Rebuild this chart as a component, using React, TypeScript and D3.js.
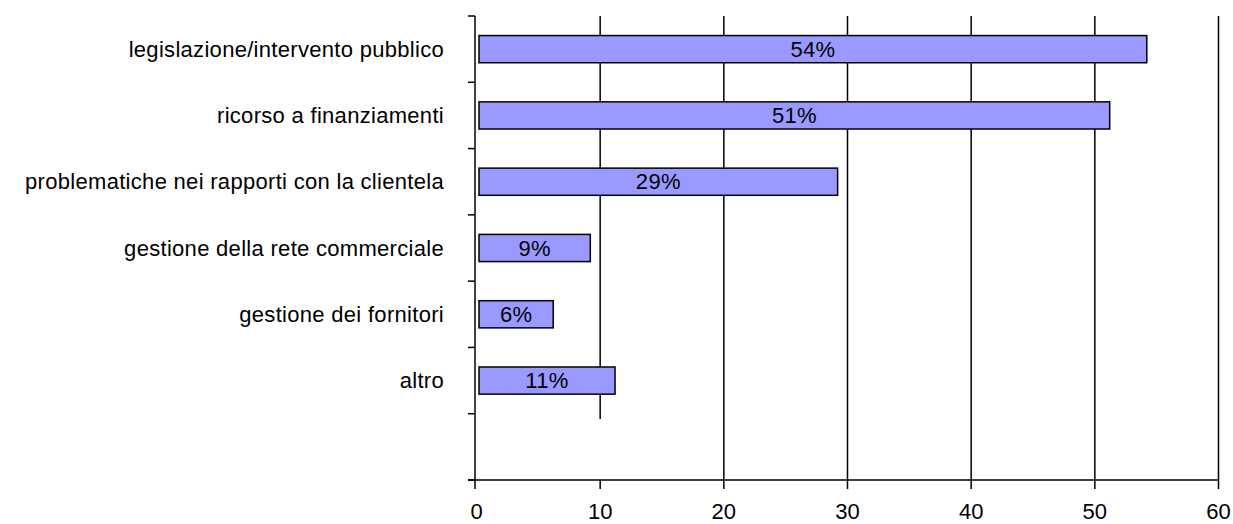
import React, { useEffect, useRef } from "react";
import * as d3 from "d3";

/* DATA */
const categories = [
  "legislazione/intervento pubblico",
  "ricorso a finanziamenti",
  "problematiche nei rapporti con la clientela",
  "gestione della rete commerciale",
  "gestione dei fornitori",
  "altro",
];
const values = [54, 51, 29, 9, 6, 11];
const xTicks = [0, 10, 20, 30, 40, 50, 60];

function BarChart() {
  const chartRef = useRef(null);

  useEffect(() => {
    const svg = d3.select(chartRef.current);
    svg.selectAll("*").remove();

    const font = "'Liberation Sans', Arial, sans-serif";
    const top = 16;
    const bottom = 480;

    // x scale for the percentages
    const x = d3.scaleLinear().domain([0, 60]).range([476.5, 1218.5]);

    // one empty slot at the bottom, like the original chart
    const slots = [...categories, ""];
    const y = d3
      .scaleBand()
      .domain(slots)
      .range([top, bottom])
      .paddingInner(0.59)
      .paddingOuter(0.295);
    const step = y.step();

    const g = svg.append("g");

    // vertical gridlines (the one at 10 stops short in the original)
    g.selectAll("line.grid")
      .data(xTicks.filter((t) => t > 0))
      .enter()
      .append("line")
      .attr("class", "grid")
      .attr("x1", (d) => x(d))
      .attr("x2", (d) => x(d))
      .attr("y1", top)
      .attr("y2", (d) => (d === 10 ? 419 : bottom))
      .attr("stroke", "#000")
      .attr("stroke-width", 1.5);

    // bars
    const data = categories.map((c, i) => ({ c, v: values[i] }));
    g.selectAll("rect.bar")
      .data(data)
      .enter()
      .append("rect")
      .attr("class", "bar")
      .attr("x", x(0) + 2.5)
      .attr("y", (d) => y(d.c) as number)
      .attr("width", (d) => x(d.v) - x(0))
      .attr("height", y.bandwidth())
      .attr("fill", "#9999ff")
      .attr("stroke", "#000")
      .attr("stroke-width", 1.5);

    // bar value labels
    g.selectAll("text.val")
      .data(data)
      .enter()
      .append("text")
      .attr("class", "val")
      .attr("x", (d) => x(0) + 2.5 + (x(d.v) - x(0)) / 2)
      .attr("y", (d) => (y(d.c) as number) + y.bandwidth() / 2)
      .attr("dy", "0.35em")
      .attr("text-anchor", "middle")
      .style("font-family", font)
      .style("font-size", "22px")
      .style("letter-spacing", "0.3px")
      .attr("fill", "#000")
      .text((d) => d.v + "%");

    // category labels
    g.selectAll("text.cat")
      .data(categories)
      .enter()
      .append("text")
      .attr("class", "cat")
      .attr("x", 444)
      .attr("y", (d) => (y(d) as number) + y.bandwidth() / 2)
      .attr("dy", "0.35em")
      .attr("text-anchor", "end")
      .style("font-family", font)
      .style("font-size", "22px")
      .style("letter-spacing", "0.3px")
      .attr("fill", "#000")
      .text((d) => d);

    // y axis line and ticks at the slot boundaries
    const ax = x(0) - 1.5;
    g.append("line")
      .attr("x1", ax)
      .attr("x2", ax)
      .attr("y1", top)
      .attr("y2", bottom)
      .attr("stroke", "#000")
      .attr("stroke-width", 1.5);
    g.selectAll("line.ytick")
      .data(d3.range(slots.length + 1))
      .enter()
      .append("line")
      .attr("class", "ytick")
      .attr("x1", ax - 7)
      .attr("x2", ax)
      .attr("y1", (i) => top + i * step)
      .attr("y2", (i) => top + i * step)
      .attr("stroke", "#000")
      .attr("stroke-width", 1.5);

    // x axis
    g.append("line")
      .attr("x1", ax - 7)
      .attr("x2", x(60))
      .attr("y1", bottom)
      .attr("y2", bottom)
      .attr("stroke", "#000")
      .attr("stroke-width", 1.5);
    g.selectAll("line.xtick")
      .data(xTicks)
      .enter()
      .append("line")
      .attr("class", "xtick")
      .attr("x1", (d) => (d === 0 ? ax : x(d)))
      .attr("x2", (d) => (d === 0 ? ax : x(d)))
      .attr("y1", bottom)
      .attr("y2", bottom + 9)
      .attr("stroke", "#000")
      .attr("stroke-width", 1.5);
    g.selectAll("text.xlab")
      .data(xTicks)
      .enter()
      .append("text")
      .attr("class", "xlab")
      .attr("x", (d) => x(d))
      .attr("y", 519)
      .attr("text-anchor", "middle")
      .style("font-family", font)
      .style("font-size", "22px")
      .attr("fill", "#000")
      .text((d) => d);
  }, []);

  return (
    <svg
      ref={chartRef}
      width={1233}
      height={524}
      style={{ position: "absolute", left: 0, top: 0, background: "#fff" }}
    />
  );
}

export default function App() {
  return <BarChart />;
}
